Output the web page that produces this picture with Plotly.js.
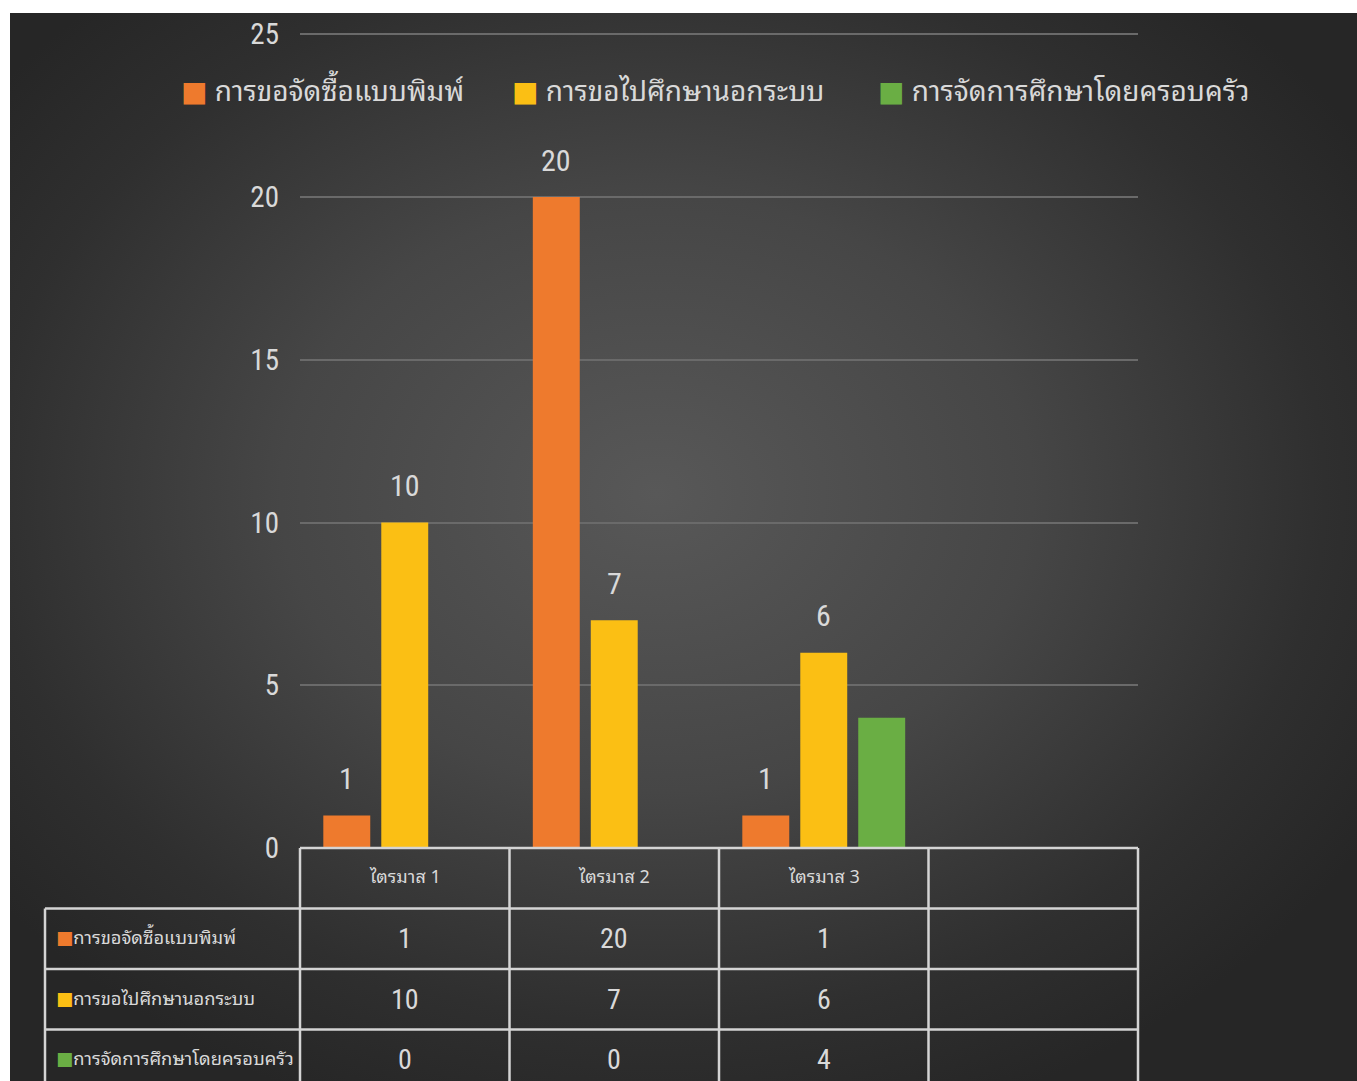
<!DOCTYPE html>
<html>
<head>
<meta charset="utf-8">
<script src="https://cdn.plot.ly/plotly-3.0.1.min.js"></script>
<style>
  html, body { margin: 0; padding: 0; background: #ffffff; }
  #chart {
    position: absolute; left: 10px; top: 13px; width: 1347px; height: 1068px;
    background: radial-gradient(ellipse 62% 62% at 48% 45%, #585858 0%, #464646 45%, #2f2f2f 80%, #262626 100%);
  }
</style>
</head>
<body>
<div id="chart"></div>
<script>
// ---------------- data ----------------
const categories = ['ไตรมาส 1', 'ไตรมาส 2', 'ไตรมาส 3', ''];
const seriesNames = ['การขอจัดซื้อแบบพิมพ์', 'การขอไปศึกษานอกระบบ', 'การจัดการศึกษาโดยครอบครัว'];
const purchaseForms = [1, 20, 1, null];
const outOfSystem = [10, 7, 6, null];
const familyEducation = [0, 0, 4, null];
const yTicks = [0, 5, 10, 15, 20, 25];
const showBarLabels = [true, true, false];

// ---------------- style ----------------
const colors = ['#ee7a2d', '#fbbf14', '#6aae44'];
const seriesValues = [purchaseForms, outOfSystem, familyEducation];
const NUM = '"Liberation Sans Narrow", "Roboto Condensed", "Noto Sans", sans-serif';
const THAI = '"Noto Sans Thai Looped", "Noto Sans Thai", "Noto Sans", "DejaVu Sans", sans-serif';
const TXT = '#d9d9d9';
const LINE = '#d4d4d4';

const W = 1347, H = 1068;
const M = {l: 290, r: 219, t: 18, b: 233};
const plotW = W - M.l - M.r, plotH = H - M.t - M.b;
const bargap = 0.17, bargroupgap = 0.19;
const nCat = categories.length;
const xIdx = categories.map((c, i) => i);

const traces = seriesValues.map((vals, s) => ({
  type: 'bar',
  name: seriesNames[s],
  x: xIdx,
  y: vals,
  marker: {color: colors[s]},
  hoverinfo: 'x+y+name',
  showlegend: false
}));

const annotations = [];
const shapes = [];

// data labels above bars (zero values not labelled)
const slot = (1 - bargap) / seriesValues.length;
seriesValues.forEach((vals, s) => {
  if (!showBarLabels[s]) return;
  vals.forEach((v, i) => {
    if (v === null || v === 0) return;
    annotations.push({
      xref: 'x', yref: 'y', x: i + (s - 1) * slot, y: v,
      text: String(v), showarrow: false, yshift: 37,
      xanchor: 'center', yanchor: 'middle',
      font: {family: NUM, size: 30, color: TXT}
    });
  });
});

// legend (top)
const legendX = [169, 500, 866];
seriesNames.forEach((n, s) => {
  annotations.push({
    xref: 'paper', yref: 'paper',
    x: (legendX[s] - M.l) / plotW, y: 1 - (75 - M.t) / plotH,
    xanchor: 'left', yanchor: 'middle', showarrow: false,
    text: '<span style="color:' + colors[s] + '">■</span> ' + n,
    font: {family: THAI, size: 28, color: TXT}
  });
});

// data table below the axis
const rowH = 60.5;
const toPY = px => -px / plotH;           // pixels below plot bottom -> paper y
const leftCol = (35 - M.l) / plotW;       // left edge of label column
const colEdge = k => k / nCat;             // category boundaries in paper x
const lineStyle = {color: LINE, width: 2.5};

// horizontal lines
shapes.push({type: 'line', xref: 'paper', yref: 'paper', x0: 0, x1: 1, y0: 0, y1: 0, line: lineStyle, layer: 'above'});
for (let r = 1; r <= 3; r++) {
  shapes.push({type: 'line', xref: 'paper', yref: 'paper', x0: leftCol, x1: 1, y0: toPY(r * rowH), y1: toPY(r * rowH), line: lineStyle});
}
// vertical lines
for (let k = 0; k <= nCat; k++) {
  shapes.push({type: 'line', xref: 'paper', yref: 'paper', x0: colEdge(k), x1: colEdge(k), y0: 0, y1: toPY(4 * rowH), line: lineStyle});
}
shapes.push({type: 'line', xref: 'paper', yref: 'paper', x0: leftCol, x1: leftCol, y0: toPY(rowH), y1: toPY(4 * rowH), line: lineStyle});

// header cells
categories.forEach((c, i) => {
  if (!c) return;
  annotations.push({
    xref: 'paper', yref: 'paper', x: (i + 0.5) / nCat, y: toPY(rowH * 0.45),
    text: c, showarrow: false, xanchor: 'center', yanchor: 'middle',
    font: {family: THAI, size: 18, color: TXT}
  });
});
// row labels and values
seriesNames.forEach((n, s) => {
  const yc = toPY(rowH * (s + 1) + rowH * 0.45);
  annotations.push({
    xref: 'paper', yref: 'paper', x: (44 - M.l) / plotW, y: yc,
    xanchor: 'left', yanchor: 'middle', showarrow: false,
    text: '<span style="color:' + colors[s] + '">■</span>' + n,
    font: {family: THAI, size: 18.3, color: TXT}
  });
  seriesValues[s].forEach((v, i) => {
    if (v === null) return;
    annotations.push({
      xref: 'paper', yref: 'paper', x: (i + 0.5) / nCat, y: toPY(rowH * (s + 1) + rowH * 0.5),
      text: String(v), showarrow: false, xanchor: 'center', yanchor: 'middle',
      font: {family: NUM, size: 28, color: TXT}
    });
  });
});

const layout = {
  width: W, height: H,
  margin: M,
  paper_bgcolor: 'rgba(0,0,0,0)',
  plot_bgcolor: 'rgba(0,0,0,0)',
  barmode: 'group',
  bargap: bargap,
  bargroupgap: bargroupgap,
  showlegend: false,
  xaxis: {
    range: [-0.5, nCat - 0.5], showticklabels: false, showgrid: false,
    zeroline: false, showline: false, ticks: '', fixedrange: true
  },
  yaxis: {
    range: [0, 25.1], tickvals: yTicks, ticktext: yTicks.map(String),
    showgrid: true, gridcolor: '#6a6a6a', gridwidth: 2,
    zeroline: false, showline: false, ticks: '',
    ticklabelstandoff: 20,
    tickfont: {family: NUM, size: 29, color: TXT}, fixedrange: true
  },
  annotations: annotations,
  shapes: shapes
};

Plotly.newPlot('chart', traces, layout, {displayModeBar: false, staticPlot: true});
</script>
</body>
</html>
